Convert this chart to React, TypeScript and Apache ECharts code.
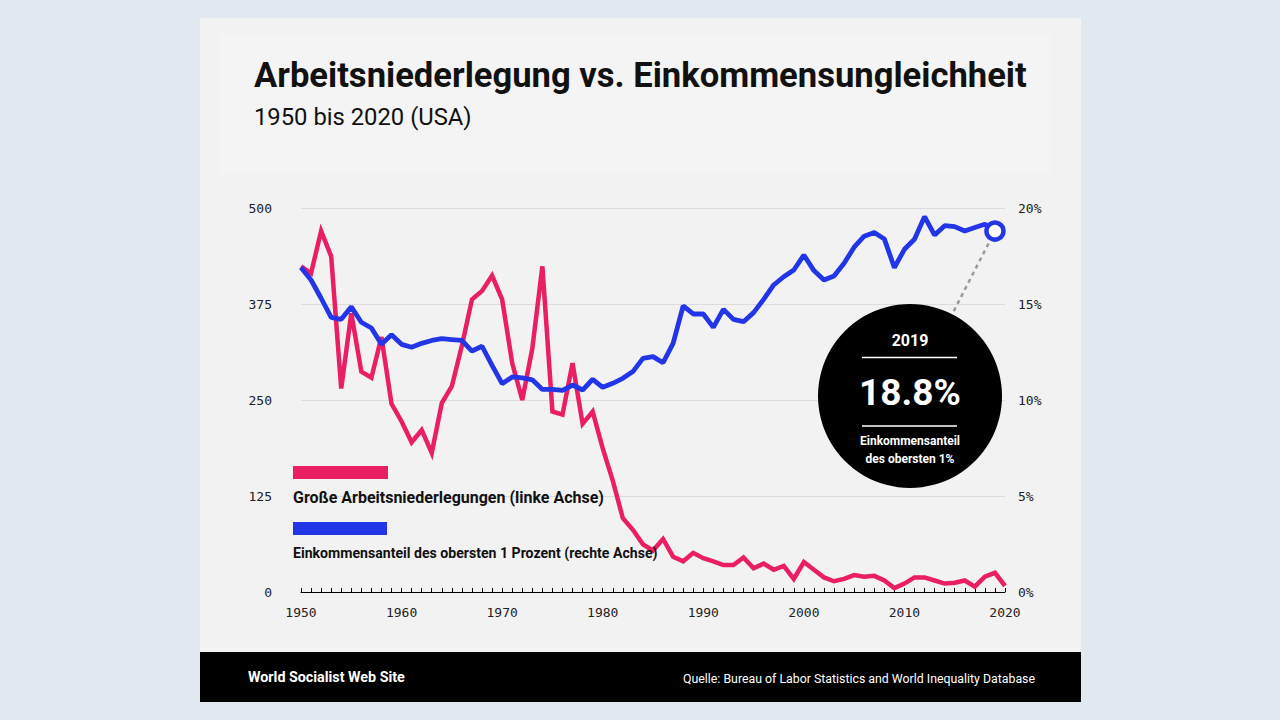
import React, { useEffect, useRef } from "react";
import * as echarts from "echarts";

const years = [
  "1950", "1951", "1952", "1953", "1954", "1955", "1956", "1957", "1958", "1959",
  "1960", "1961", "1962", "1963", "1964", "1965", "1966", "1967", "1968", "1969",
  "1970", "1971", "1972", "1973", "1974", "1975", "1976", "1977", "1978", "1979",
  "1980", "1981", "1982", "1983", "1984", "1985", "1986", "1987", "1988", "1989",
  "1990", "1991", "1992", "1993", "1994", "1995", "1996", "1997", "1998", "1999",
  "2000", "2001", "2002", "2003", "2004", "2005", "2006", "2007", "2008", "2009",
  "2010", "2011", "2012", "2013", "2014", "2015", "2016", "2017", "2018", "2019",
  "2020",
];

// Major work stoppages (left axis)
const stoppages = [
  424, 415, 470, 437, 265, 363, 287, 279, 332, 245,
  222, 195, 211, 181, 246, 268, 321, 381, 392, 412,
  381, 298, 250, 317, 424, 235, 231, 298, 219, 235,
  187, 145, 96, 81, 62, 54, 69, 46, 40, 51,
  44, 40, 35, 35, 45, 31, 37, 29, 34, 17,
  39, 29, 19, 14, 17, 22, 20, 21, 15, 5,
  11, 19, 19, 15, 11, 12, 15, 7, 20, 25,
  8,
];

// Top 1% income share in % (right axis), 1950-2019
const topShare = [
  16.9, 16.25, 15.3, 14.3, 14.2, 14.85, 14.05, 13.75, 12.9, 13.4,
  12.9, 12.75, 12.95, 13.1, 13.2, 13.15, 13.1, 12.55, 12.8, 11.8,
  10.85, 11.2, 11.15, 11.05, 10.55, 10.55, 10.5, 10.78, 10.52, 11.08,
  10.66, 10.87, 11.13, 11.48, 12.17, 12.26, 11.94, 12.95, 14.9, 14.48,
  14.48, 13.78, 14.72, 14.2, 14.08, 14.55, 15.24, 15.99, 16.42, 16.77,
  17.55, 16.74, 16.25, 16.46, 17.12, 17.96, 18.53, 18.72, 18.39, 16.89,
  17.85, 18.37, 19.55, 18.59, 19.08, 19.03, 18.8, 18.98, 19.15, 18.8,
];

const leftTicks = [0, 125, 250, 375, 500];
const highlightYear = "2019";
const highlightValue = 18.8;

const PINK = "#e91e63";
const BLUE = "#2236e8";
const FONT = "Roboto, 'Noto Sans', sans-serif";
const MONO = "'DejaVu Sans Mono', 'Liberation Mono', monospace";

export default function App() {
  const ref = useRef<HTMLDivElement>(null);

  useEffect(() => {
    if (!ref.current) return;
    const chart = echarts.init(ref.current, undefined, { renderer: "svg" });

    const cx = 910;
    const cy = 396;
    const r = 92;

    const baseGraphic: any[] = [
      { type: "rect", z: -10, shape: { x: 200, y: 18, width: 881, height: 684 }, style: { fill: "#f2f2f2" }, silent: true },
      { type: "rect", z: -9, shape: { x: 219, y: 34, width: 832, height: 140 }, style: { fill: "#f4f4f4" }, silent: true },
      { type: "rect", z: -9, shape: { x: 200, y: 652, width: 881, height: 50 }, style: { fill: "#000" }, silent: true },
      {
        type: "text", x: 254, y: 75,
        style: { text: "Arbeitsniederlegung vs. Einkommensungleichheit", font: `bold 34.6px ${FONT}`, fill: "#111", textVerticalAlign: "middle" },
      },
      {
        type: "text", x: 254, y: 117,
        style: { text: "1950 bis 2020 (USA)", font: `23.8px ${FONT}`, fill: "#111", textVerticalAlign: "middle" },
      },
      {
        type: "text", x: 248, y: 677,
        style: { text: "World Socialist Web Site", font: `bold 14.3px ${FONT}`, fill: "#fff", textVerticalAlign: "middle" },
      },
      {
        type: "text", x: 1035, y: 678, scaleX: 0.95,
        style: { text: "Quelle: Bureau of Labor Statistics and World Inequality Database", font: `13px ${FONT}`, fill: "#fff", textAlign: "right", textVerticalAlign: "middle" },
      },
      // legend
      { type: "rect", z: 10, shape: { x: 293, y: 466, width: 95, height: 13 }, style: { fill: PINK } },
      {
        type: "text", z: 10, x: 293, y: 497,
        style: { text: "Große Arbeitsniederlegungen (linke Achse)", font: `bold 16px ${FONT}`, fill: "#111", textVerticalAlign: "middle" },
      },
      { type: "rect", z: 10, shape: { x: 293, y: 522, width: 94, height: 13 }, style: { fill: BLUE } },
      {
        type: "text", z: 10, x: 293, y: 553,
        style: { text: "Einkommensanteil des obersten 1 Prozent (rechte Achse)", font: `bold 14.1px ${FONT}`, fill: "#111", textVerticalAlign: "middle" },
      },
      // callout
      { type: "circle", z: 20, shape: { cx, cy, r }, style: { fill: "#000" } },
      {
        type: "text", z: 21, x: cx, y: 340,
        style: { text: "2019", font: `bold 16px ${FONT}`, fill: "#fff", textAlign: "center", textVerticalAlign: "middle" },
      },
      { type: "line", z: 21, shape: { x1: 862, y1: 357.5, x2: 957, y2: 357.5 }, style: { stroke: "#fff", lineWidth: 1.5 } },
      {
        type: "text", z: 21, x: cx, y: 392,
        style: { text: "18.8%", font: `bold 37px ${FONT}`, fill: "#fff", textAlign: "center", textVerticalAlign: "middle" },
      },
      { type: "line", z: 21, shape: { x1: 862, y1: 426, x2: 957, y2: 426 }, style: { stroke: "#fff", lineWidth: 1.5 } },
      {
        type: "text", z: 21, x: cx, y: 450,
        style: { text: "Einkommensanteil\ndes obersten 1%", font: `bold 12px ${FONT}`, lineHeight: 18, fill: "#fff", textAlign: "center", textVerticalAlign: "middle" },
      },
    ];

    const option: any = {
      animation: false,
      backgroundColor: "#e1e8f0",
      grid: { left: 301, top: 208, width: 704, height: 384, containLabel: false },
      xAxis: {
        type: "category",
        data: years,
        boundaryGap: false,
        axisLine: { show: true, lineStyle: { color: "#000", width: 1 } },
        axisTick: { show: true, inside: true, length: 4, interval: 0, lineStyle: { color: "#000" } },
        axisLabel: { interval: 9, margin: 14, color: "#222", fontFamily: MONO, fontSize: 13 },
        splitLine: { show: false },
      },
      yAxis: [
        {
          type: "value",
          min: leftTicks[0],
          max: leftTicks[leftTicks.length - 1],
          interval: 125,
          axisLine: { show: false },
          axisTick: { show: false },
          axisLabel: { margin: 29, color: "#222", fontFamily: MONO, fontSize: 13 },
          splitLine: { show: true, lineStyle: { color: "#dcdcdc", width: 1 } },
        },
        {
          type: "value",
          min: 0,
          max: 20,
          interval: 5,
          position: "right",
          axisLine: { show: false },
          axisTick: { show: false },
          axisLabel: { margin: 13, color: "#222", fontFamily: MONO, fontSize: 13, formatter: "{value}%" },
          splitLine: { show: false },
        },
      ],
      series: [
        {
          name: "Große Arbeitsniederlegungen",
          type: "line",
          yAxisIndex: 0,
          data: stoppages,
          symbol: "none",
          lineStyle: { color: PINK, width: 4.5, join: "miter" },
          z: 3,
        },
        {
          name: "Einkommensanteil",
          type: "line",
          yAxisIndex: 1,
          data: topShare,
          symbol: "none",
          lineStyle: { color: BLUE, width: 4.8 },
          z: 4,
        },
        {
          type: "scatter",
          yAxisIndex: 1,
          data: [[highlightYear, highlightValue]],
          symbol: "circle",
          symbolSize: 17,
          itemStyle: { color: "#fff", borderColor: BLUE, borderWidth: 4.5, opacity: 1 },
          z: 6,
        },
      ],
      graphic: baseGraphic,
    };

    chart.setOption(option);

    const pt = chart.convertToPixel({ xAxisIndex: 0, yAxisIndex: 1 } as any, [highlightYear, highlightValue]) as number[];
    if (pt && isFinite(pt[0])) {
      const dx = cx - pt[0];
      const dy = cy - pt[1];
      const len = Math.sqrt(dx * dx + dy * dy);
      const ux = dx / len;
      const uy = dy / len;
      const conn = {
        type: "line",
        z: 5,
        shape: { x1: pt[0] + ux * 14, y1: pt[1] + uy * 14, x2: cx - ux * (r - 2), y2: cy - uy * (r - 2) },
        style: { stroke: "#9a9a9a", lineWidth: 2.5, lineDash: [4, 4] },
      };
      chart.setOption({ graphic: [...baseGraphic, conn] }, { replaceMerge: ["graphic"] } as any);
    }

    return () => chart.dispose();
  }, []);

  return <div ref={ref} style={{ position: "absolute", left: 0, top: 0, width: 1280, height: 720 }} />;
}
